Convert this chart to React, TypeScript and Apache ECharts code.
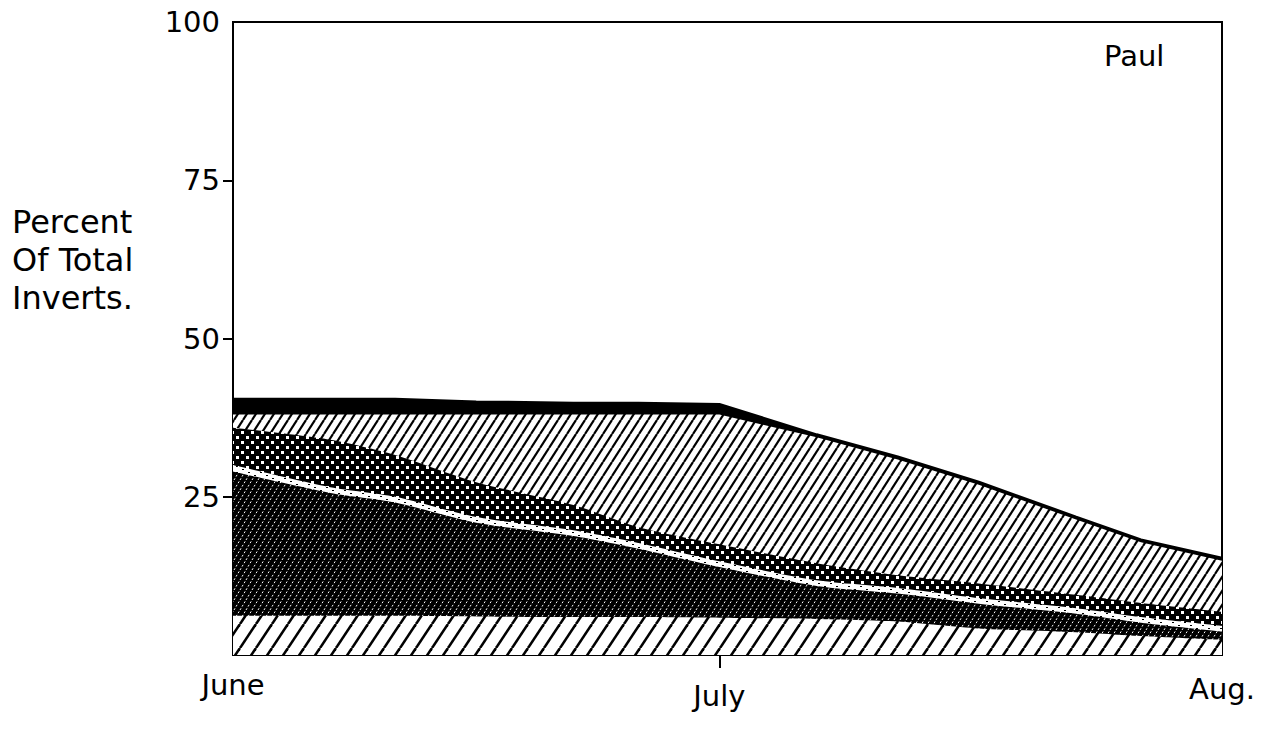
import React, { useEffect, useRef } from "react";
import * as echarts from "echarts";

// Days since June 1 (June = 0, July = 30, Aug. = 61)
const days = [0, 6, 10, 15, 21, 25, 30, 36, 41, 46, 52, 56, 61];
const monthTicks = [0, 30, 61];
const monthLabels = ["June", "July", "Aug."];
const yTickValues = [25, 50, 75];
const yLabelValues = [25, 50, 75, 100];

// Layer thicknesses (percent), bottom to top
const broadHatch = [6.2, 6.2, 6.2, 6.1, 6.0, 6.0, 5.9, 5.7, 5.3, 4.2, 3.6, 3.0, 2.4];
const denseHatch = [22.8, 19.4, 17.9, 14.8, 12.8, 10.8, 8.0, 5.2, 4.4, 3.9, 2.9, 2.1, 1.3];
const wavyBand = [1.0, 0.9, 0.9, 0.9, 0.9, 0.9, 0.9, 0.9, 0.9, 0.9, 0.9, 0.9, 0.9];
const dotted = [5.9, 7.5, 6.6, 5.5, 4.0, 2.5, 2.7, 2.7, 2.0, 2.3, 2.1, 2.2, 2.2];
const lightHatch = [2.1, 4.0, 6.4, 10.7, 14.3, 17.8, 20.5, 19.9, 18.3, 15.6, 11.9, 9.6, 8.1];
const solidBlack = [2.4, 2.4, 2.4, 2.0, 1.8, 1.8, 1.6, 0.4, 0.4, 0.4, 0.4, 0.4, 0.4];

const FONT = "DejaVu Sans, Liberation Sans, sans-serif";

function makeCanvas(w: number, h: number, draw: (ctx: CanvasRenderingContext2D) => void) {
  const c = document.createElement("canvas");
  c.width = w;
  c.height = h;
  const ctx = c.getContext("2d") as CanvasRenderingContext2D;
  draw(ctx);
  return c;
}

function hatchCanvas(w: number, h: number, bg: string, fg: string, lw: number, dash?: number[]) {
  return makeCanvas(w, h, (ctx) => {
    ctx.fillStyle = bg;
    ctx.fillRect(0, 0, w, h);
    ctx.strokeStyle = fg;
    ctx.lineWidth = lw;
    if (dash) ctx.setLineDash(dash);
    for (const dx of [-w, 0, w]) {
      ctx.beginPath();
      ctx.moveTo(dx, h);
      ctx.lineTo(dx + w, 0);
      ctx.stroke();
    }
  });
}

function pattern(c: HTMLCanvasElement) {
  return { image: c, repeat: "repeat", imageWidth: c.width, imageHeight: c.height } as any;
}

export default function App() {
  const ref = useRef<HTMLDivElement>(null);

  useEffect(() => {
    if (!ref.current) return;
    const chart = echarts.init(ref.current, undefined, { renderer: "svg" });

    const broadPat = pattern(hatchCanvas(16, 24, "#fff", "#000", 2.6));
    const densePat = pattern(hatchCanvas(6, 10, "#000", "#fff", 1, [2, 2]));
    const wavyPat = pattern(
      makeCanvas(12, 6, (ctx) => {
        ctx.fillStyle = "#fff";
        ctx.fillRect(0, 0, 12, 6);
        ctx.fillStyle = "#000";
        ctx.fillRect(2, 1, 2, 1);
        ctx.fillRect(8, 4, 2, 1);
      })
    );
    const dotPat = pattern(
      makeCanvas(10, 10, (ctx) => {
        ctx.fillStyle = "#000";
        ctx.fillRect(0, 0, 10, 10);
        ctx.fillStyle = "#fff";
        ctx.fillRect(1, 1, 3, 3);
        ctx.fillRect(6, 6, 3, 3);
      })
    );
    const lightPat = pattern(hatchCanvas(9, 14, "#fff", "#000", 2.2));

    const layers = [
      { name: "broad", data: broadHatch, fill: broadPat },
      { name: "dense", data: denseHatch, fill: densePat },
      { name: "wavy", data: wavyBand, fill: wavyPat },
      { name: "dotted", data: dotted, fill: dotPat },
      { name: "light", data: lightHatch, fill: lightPat },
      { name: "black", data: solidBlack, fill: "#000" },
    ];

    // cumulative tops of each layer
    const running = days.map(() => 0);
    const cumulative = layers.map((l) => {
      const tops = l.data.map((v, k) => {
        running[k] += v;
        return +running[k].toFixed(2);
      });
      return { ...l, tops };
    });

    // draw from the top layer down so lower layers cover the lower part
    const series = cumulative
      .slice()
      .reverse()
      .map((l, i) => ({
        type: "line",
        name: l.name,
        symbol: "none",
        smooth: i <= 1 ? false : 0.25,
        data: days.map((d, k) => [d, l.tops[k]]),
        areaStyle: { color: l.fill, opacity: 1, origin: "start" },
        lineStyle: i === 0 ? { color: "#000", width: 2.8 } : { width: 0, opacity: 0 },
        z: 2,
      }));

    chart.setOption({
      animation: false,
      backgroundColor: "#fff",
      grid: {
        left: 233,
        right: 41,
        top: 22,
        bottom: 74,
        show: true,
        borderColor: "#000",
        borderWidth: 2,
        backgroundColor: "#fff",
      },
      xAxis: {
        type: "value",
        min: 0,
        max: 61,
        axisLine: { show: true, lineStyle: { color: "#000", width: 2 } },
        axisTick: {
          show: true,
          inside: false,
          length: 13,
          customValues: [monthTicks[1]],
          lineStyle: { color: "#000", width: 2 },
        },
        splitLine: { show: false },
        axisLabel: {
          customValues: monthTicks,
          margin: 15,
          formatter: (v: number) => {
            const idx = monthTicks.indexOf(Math.round(v));
            const t = idx >= 0 ? monthLabels[idx] : "";
            return "{m" + idx + "|" + t + "}";
          },
          rich: {
            m0: { fontFamily: FONT, fontSize: 29, color: "#000", lineHeight: 30 },
            m1: { fontFamily: FONT, fontSize: 29, color: "#000", lineHeight: 30, padding: [21, 0, 0, 0] },
            m2: { fontFamily: FONT, fontSize: 29, color: "#000", lineHeight: 30, padding: [7, 0, 0, 0] },
          },
        },
      },
      yAxis: {
        type: "value",
        min: 0,
        max: 100,
        interval: 25,
        axisLine: { show: true, lineStyle: { color: "#000", width: 2 } },
        axisTick: {
          show: true,
          inside: false,
          length: 10,
          customValues: yTickValues,
          lineStyle: { color: "#000", width: 2 },
        },
        splitLine: { show: false },
        axisLabel: {
          customValues: yLabelValues,
          margin: 13,
          fontFamily: FONT,
          fontSize: 29,
          color: "#000",
        },
      },
      graphic: [
        {
          type: "text",
          left: 12,
          top: 203,
          style: {
            text: "Percent\nOf Total\nInverts.",
            font: "32px " + FONT,
            lineHeight: 38,
            fill: "#000",
          },
        },
        {
          type: "text",
          left: 1104,
          top: 41,
          style: {
            text: "Paul",
            font: "29px " + FONT,
            fill: "#000",
          },
        },
      ],
      series,
    });

    return () => chart.dispose();
  }, []);

  return (
    <div
      ref={ref}
      style={{ position: "fixed", left: 0, top: 0, width: 1263, height: 729, background: "#fff" }}
    />
  );
}
